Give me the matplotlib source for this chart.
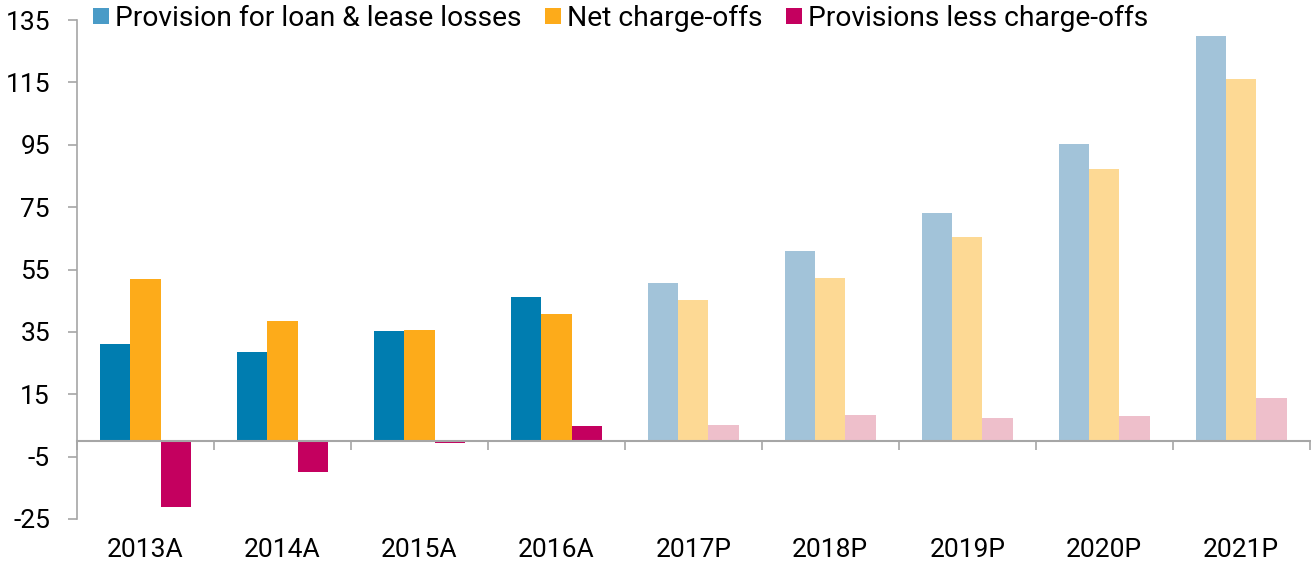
import matplotlib
matplotlib.use("Agg")
import matplotlib.pyplot as plt
from matplotlib.lines import Line2D
from matplotlib.ticker import FixedLocator, NullFormatter
import numpy as np

plt.rcParams['font.family'] = ['Roboto', 'DejaVu Sans']

categories = ["2013A", "2014A", "2015A", "2016A", "2017P", "2018P", "2019P", "2020P", "2021P"]
provision = [31.1, 28.5, 35.3, 46.2, 50.6, 60.9, 73.0, 95.2, 130.0]
net_chargeoffs = [52.0, 38.5, 35.6, 40.7, 45.2, 52.2, 65.4, 87.2, 116.0]
prov_less_co = [-21.2, -10.0, -0.6, 4.8, 5.2, 8.5, 7.5, 8.1, 13.9]
series_names = ["Provision for loan & lease losses", "Net charge-offs", "Provisions less charge-offs"]
y_ticks = [-25, -5, 15, 35, 55, 75, 95, 115, 135]

actual_colors = ["#007DB0", "#FDAB1A", "#C4005F"]
proj_colors = ["#A2C3D9", "#FDD994", "#EEBFCB"]

fig = plt.figure(figsize=(13.11, 5.67), dpi=100)
ax = fig.add_axes([77 / 1311, 1 - 519 / 567, 1 - 77 / 1311 - 0.001, (519 - 20) / 567])

x = np.arange(len(categories))
width = 0.221
is_proj = [c.endswith("P") for c in categories]
for i, vals in enumerate([provision, net_chargeoffs, prov_less_co]):
    cols = [proj_colors[i] if p else actual_colors[i] for p in is_proj]
    ax.bar(x + (i - 1) * width, vals, width, color=cols, linewidth=0, zorder=2)

ax.set_xlim(-0.5, len(categories) - 0.5)
ax.set_ylim(-25, 135)
ax.set_yticks(y_ticks)
ax.set_yticklabels([str(t) for t in y_ticks])

gray = "#A6A6A6"
for s in ["top", "right"]:
    ax.spines[s].set_visible(False)
ax.spines["left"].set_color(gray)
ax.spines["left"].set_linewidth(1.2)
ax.spines["bottom"].set_position(("data", 0))
ax.spines["bottom"].set_color(gray)
ax.spines["bottom"].set_linewidth(1.5)
ax.spines["bottom"].set_zorder(3)

ax.set_xticks(x)
ax.set_xticklabels(categories)
ax.xaxis.set_minor_locator(FixedLocator(np.arange(len(categories) + 1) - 0.5))
ax.xaxis.set_minor_formatter(NullFormatter())
ax.tick_params(axis="x", which="major", length=0, pad=70, labelsize=19, colors="black")
ax.tick_params(axis="x", which="minor", length=6.5, width=1.2, color=gray)
ax.tick_params(axis="y", length=6.5, width=1.2, color=gray, pad=13, labelsize=19)

handles = [Line2D([], [], marker="s", linestyle="none", markersize=11.5,
                  markerfacecolor=c, markeredgewidth=0) for c in ["#4A9BC7", "#FDAB1A", "#C4005F"]]
fig.legend(handles, series_names, loc="upper left", bbox_to_anchor=(92 / 1311, 1 - 5 / 567),
           ncol=3, frameon=False, fontsize=20.3, handlelength=0.62, handletextpad=0.2,
           columnspacing=0.8, borderpad=0, borderaxespad=0)

fig.savefig("out.png", dpi=100)
